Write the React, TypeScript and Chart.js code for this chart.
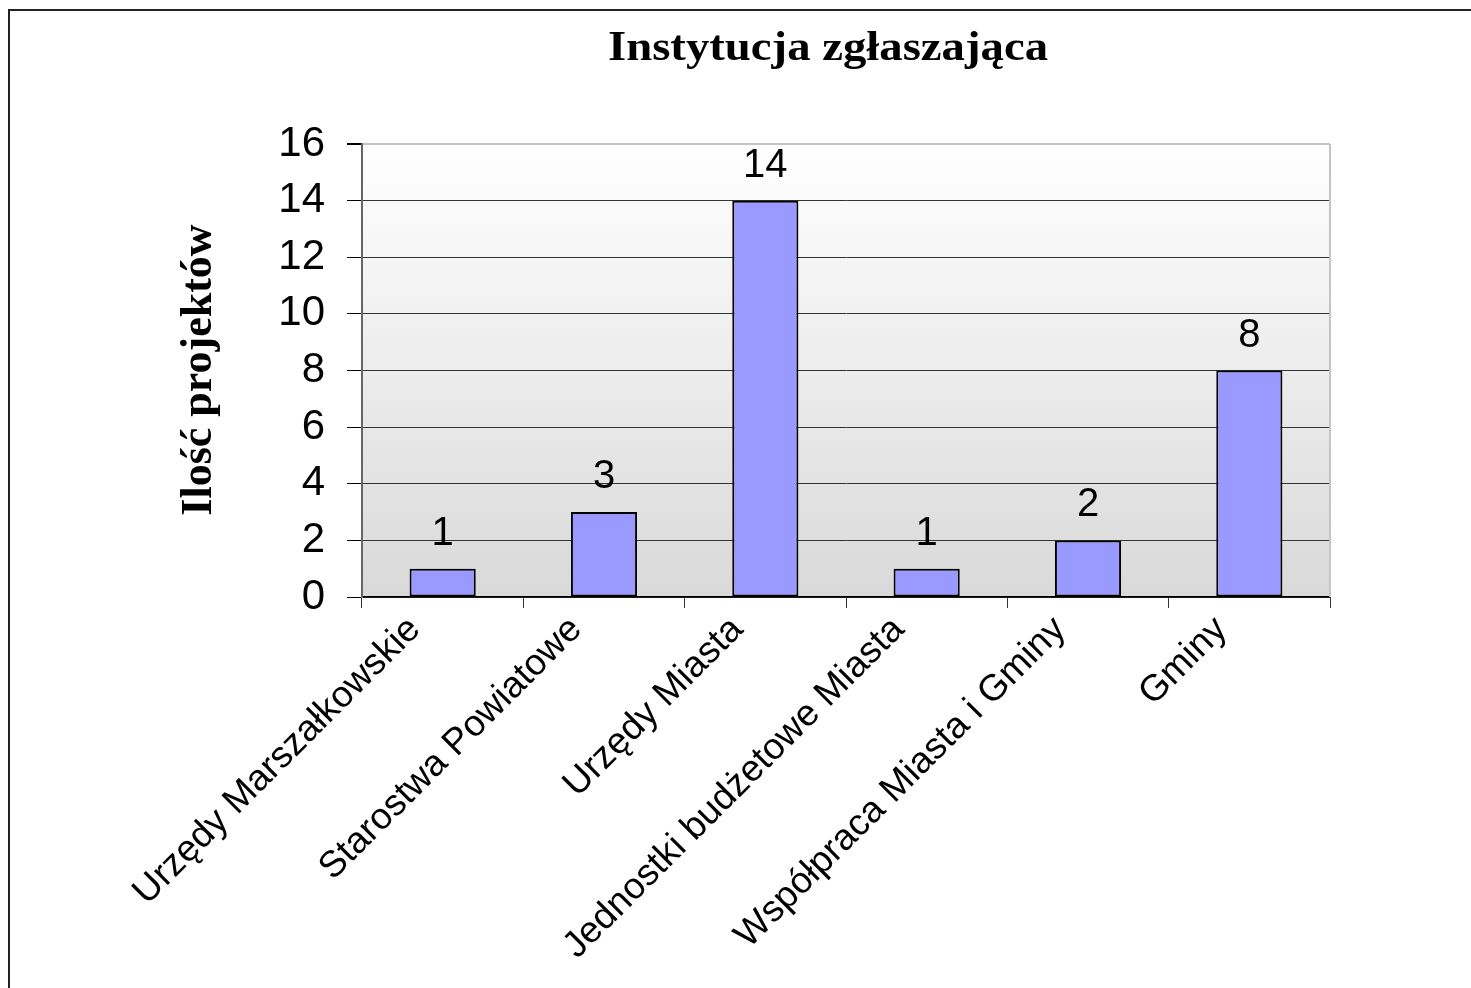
import React, { useEffect, useRef } from "react";
import { Chart, registerables } from "chart.js";

Chart.register(...registerables);

const categories = [
  "Urzędy Marszałkowskie",
  "Starostwa Powiatowe",
  "Urzędy Miasta",
  "Jednostki budżetowe Miasta",
  "Współpraca Miasta i Gminy",
  "Gminy",
];
const values = [1, 3, 14, 1, 2, 8];
const titleText = "Instytucja zgłaszająca";
const yTitleText = "Ilość projektów";
const yMin = 0;
const yMax = 16;
const yStep = 2;

const SANS = "'Liberation Sans', Arial, sans-serif";
const SERIF = "'Liberation Serif', 'Times New Roman', serif";

const decorPlugin = {
  id: "decor",
  beforeDraw(chart: any) {
    const { ctx, chartArea } = chart;
    const { left, top, right, bottom } = chartArea;
    ctx.save();
    const g = ctx.createLinearGradient(0, top, 0, bottom);
    g.addColorStop(0, "#ffffff");
    g.addColorStop(1, "#d9d9d9");
    ctx.fillStyle = g;
    ctx.fillRect(left, top, right - left, bottom - top);
    ctx.strokeStyle = "#222";
    ctx.lineWidth = 2;
    ctx.beginPath();
    ctx.moveTo(9, chart.height);
    ctx.lineTo(9, 10);
    ctx.lineTo(chart.width, 10);
    ctx.stroke();
    ctx.restore();
  },
  afterDraw(chart: any) {
    const { ctx, chartArea } = chart;
    const { top, right, bottom } = chartArea;
    ctx.save();
    ctx.strokeStyle = "#c4c4c4";
    ctx.lineWidth = 2;
    ctx.beginPath();
    ctx.moveTo(right, top);
    ctx.lineTo(right, bottom);
    ctx.stroke();
    ctx.fillStyle = "#000";
    ctx.font = `bold 42px ${SERIF}`;
    const w = ctx.measureText(titleText).width;
    const target = 440;
    ctx.translate(828, 60);
    ctx.scale(target / w, 1);
    ctx.textAlign = "center";
    ctx.textBaseline = "alphabetic";
    ctx.fillText(titleText, 0, 0);
    ctx.restore();
    ctx.save();
    ctx.fillStyle = "#000";
    ctx.font = `bold 44px ${SERIF}`;
    ctx.translate(200, 370);
    ctx.rotate(-Math.PI / 2);
    ctx.textAlign = "center";
    ctx.textBaseline = "middle";
    ctx.fillText(yTitleText, 0, 0);
    ctx.restore();
  },
  afterDatasetsDraw(chart: any) {
    const { ctx } = chart;
    const meta = chart.getDatasetMeta(0);
    ctx.save();
    ctx.fillStyle = "#000";
    ctx.font = `40px ${SANS}`;
    ctx.textAlign = "center";
    ctx.textBaseline = "alphabetic";
    meta.data.forEach((bar: any, i: number) => {
      ctx.fillText(String(values[i]), bar.x, bar.y - 24);
    });
    ctx.restore();
  },
};

export default function App() {
  const ref = useRef<HTMLCanvasElement | null>(null);
  useEffect(() => {
    if (!ref.current) return;
    const chart = new Chart(ref.current, {
      type: "bar",
      data: {
        labels: categories,
        datasets: [
          {
            data: values,
            backgroundColor: "#9999ff",
            borderColor: "#000000",
            borderWidth: 2,
            borderSkipped: false,
            categoryPercentage: 1,
            barPercentage: 0.41,
          },
        ],
      },
      options: {
        responsive: false,
        devicePixelRatio: 1,
        animation: false,
        events: [],
        layout: { padding: { left: 0, top: 144, right: 141, bottom: 0 } },
        plugins: {
          legend: { display: false },
          title: { display: false },
          tooltip: { enabled: false },
        },
        scales: {
          x: {
            offset: true,
            grid: {
              offset: true,
              drawOnChartArea: false,
              drawTicks: true,
              tickLength: 11,
              tickColor: "#333",
            },
            border: { display: true, color: "#000", width: 1.5 },
            ticks: {
              minRotation: 45,
              maxRotation: 45,
              autoSkip: false,
              color: "#000",
              padding: 0,
              labelOffset: -28,
              font: { family: SANS, size: 37 },
            },
            afterFit(scale: any) {
              scale.height = 988 - 597;
            },
          },
          y: {
            min: yMin,
            max: yMax,
            ticks: {
              stepSize: yStep,
              color: "#000",
              padding: 22,
              font: { family: SANS, size: 42 },
            },
            grid: {
              color: (c: any) => (c.tick && c.tick.value === yMax ? "#c4c4c4" : "#333333"),
              lineWidth: (c: any) => (c.tick && c.tick.value === yMax ? 2 : 1),
              tickColor: "#000",
              tickLength: 15,
            },
            border: { display: true, color: "#666", width: 2 },
            afterFit(scale: any) {
              scale.width = 362;
            },
          },
        },
      },
      plugins: [decorPlugin],
    } as any);
    return () => chart.destroy();
  }, []);
  return (
    <div style={{ position: "absolute", left: 0, top: 0, width: 1471, height: 988, background: "#fff" }}>
      <canvas ref={ref} width={1471} height={988} style={{ display: "block" }} />
    </div>
  );
}
